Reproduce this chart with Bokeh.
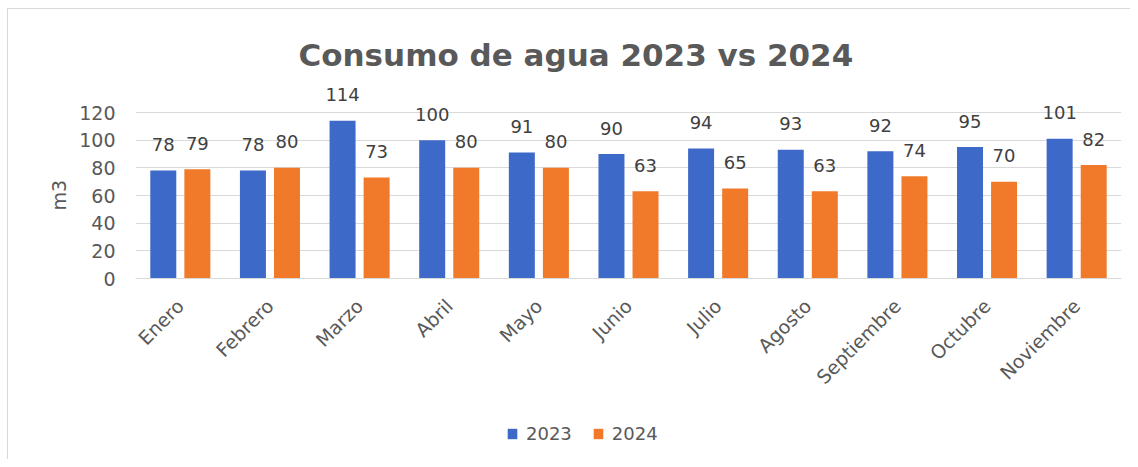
import math
from bokeh.plotting import figure
from bokeh.models import (ColumnDataSource, FactorRange, Range1d, FixedTicker,
                          Legend, LegendItem, Title)
from bokeh.transform import dodge
from bokeh.core.properties import value
from bokeh.embed import file_html
from bokeh.resources import INLINE

months = ["Enero", "Febrero", "Marzo", "Abril", "Mayo", "Junio", "Julio",
          "Agosto", "Septiembre", "Octubre", "Noviembre"]
v2023 = [78, 78, 114, 100, 91, 90, 94, 93, 92, 95, 101]
v2024 = [79, 80, 73, 80, 80, 63, 65, 63, 74, 70, 82]
series_names = ["2023", "2024"]
y_ticks = [0, 20, 40, 60, 80, 100, 120]
y_label = "m3"

BLUE = "#3d69c8"
ORANGE = "#f07a2a"
FONT = "DejaVu Sans"

src = ColumnDataSource(dict(
    month=months, a=v2023, b=v2024,
    la=[str(v) for v in v2023], lb=[str(v) for v in v2024],
))

# frame spans page y 82..457; value 0 at y=278, 120 at y=112
PX = 166 / 120.0
p = figure(
    x_range=FactorRange(*months, range_padding=0),
    y_range=Range1d(-(457 - 278) / PX, (278 - 82) / PX),
    width=1130, height=459,
    min_border_left=135, min_border_right=9,
    min_border_top=82, min_border_bottom=2,
    output_backend="svg", toolbar_location=None,
    title="Consumo  de agua 2023 vs 2024",
    styles={"background-color": "white",
            "box-shadow": "inset 7px 8px 0 0 white, inset 8px 9px 0 0 #d9d9d9"},
)
p.x_range.range_padding = 0

p.title.align = "left"
p.title.offset = 163
p.title.text_font = FONT
p.title.text_font_size = "31px"
p.title.text_font_style = "bold"
p.title.text_color = "#595959"
p.title.standoff = 19

p.outline_line_color = None
p.background_fill_color = "white"
p.border_fill_alpha = 0

p.xgrid.grid_line_color = None
p.ygrid.grid_line_color = "#d9d9d9"
p.ygrid.grid_line_width = 1
p.yaxis.ticker = FixedTicker(ticks=y_ticks)

for ax in (p.xaxis[0], p.yaxis[0]):
    ax.major_tick_line_color = None
    ax.minor_tick_line_color = None
    ax.major_label_text_font = FONT
    ax.major_label_text_font_size = "19px"
    ax.major_label_text_color = "#595959"
p.yaxis.axis_line_color = None
p.xaxis.axis_line_color = "#d9d9d9"
p.xaxis.fixed_location = 0
p.yaxis.major_label_standoff = 14
p.xaxis.major_label_orientation = math.pi / 4
p.xaxis.major_label_standoff = 18

# y-axis title, placed on the 0..120 band rather than the whole frame
ytitle = Title(text=y_label, align="left", offset=247, standoff=14,
               text_font=FONT, text_font_size="19px", text_font_style="normal",
               text_color="#595959")
p.add_layout(ytitle, "left")

ra = p.vbar(x=dodge("month", -0.19, range=p.x_range), top="a", width=0.29,
            source=src, fill_color=BLUE, line_color=None)
rb = p.vbar(x=dodge("month", 0.19, range=p.x_range), top="b", width=0.29,
            source=src, fill_color=ORANGE, line_color=None)

for col, lab, dx in (("a", "la", -0.19), ("b", "lb", 0.19)):
    p.text(x=dodge("month", dx, range=p.x_range), y=col, text=lab, source=src,
           text_align="center", text_baseline="middle", y_offset=-26,
           text_font=value(FONT), text_font_size="18px", text_color="#404040")

legend = Legend(items=[LegendItem(label=series_names[0], renderers=[ra]),
                       LegendItem(label=series_names[1], renderers=[rb])],
                orientation="horizontal", location=(371, 13))
legend.padding = 0
legend.margin = 0
legend.border_line_color = None
legend.background_fill_alpha = 0
legend.glyph_width = 12
legend.glyph_height = 13
legend.label_height = 20
legend.label_standoff = 8
legend.spacing = 20
legend.label_text_font = FONT
legend.label_text_font_size = "18px"
legend.label_text_color = "#595959"
p.add_layout(legend, "center")

open("out.html", "w").write(file_html(p, INLINE))
